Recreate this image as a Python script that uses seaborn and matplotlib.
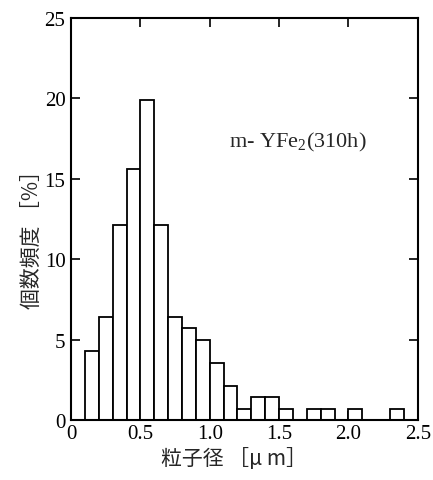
import matplotlib
matplotlib.use("Agg")
import matplotlib.pyplot as plt
import seaborn as sns
import numpy as np

# Data: particle diameter bins (um) and number frequency (%)
bin_edges = [0.1, 0.2, 0.3, 0.4, 0.5, 0.6, 0.7, 0.8, 0.9, 1.0, 1.1, 1.2,
             1.3, 1.4, 1.5, 1.6, 1.7, 1.8, 1.9, 2.0, 2.1, 2.2, 2.3, 2.4]
bin_centers = [0.15, 0.25, 0.35, 0.45, 0.55, 0.65, 0.75, 0.85, 0.95, 1.05, 1.15,
               1.25, 1.35, 1.45, 1.55, 1.65, 1.75, 1.85, 1.95, 2.05, 2.15, 2.25, 2.35]
freq_pct = [4.3, 6.4, 12.1, 15.6, 19.9, 12.1, 6.4, 5.7, 5.0, 3.55, 2.13,
            0.71, 1.42, 1.42, 0.71, 0.0, 0.71, 0.71, 0.0, 0.71, 0.0, 0.0, 0.71]
x_ticks = [0, 0.5, 1.0, 1.5, 2.0, 2.5]
x_tick_labels = ["0", "0.5", "1.0", "1.5", "2.0", "2.5"]
y_ticks = [0, 5, 10, 15, 20, 25]
y_tick_labels = ["0", "5", "10", "15", "20", "25"]
annotation = "m- YFe$_2$(310h)"
xlabel = "粒子径 ［μ m］"
ylabel = "個数頻度 ［%］"

sns.set_style("ticks")
plt.rcParams['font.family'] = ['Liberation Serif', 'Noto Sans CJK JP', 'DejaVu Sans']
plt.rcParams['mathtext.fontset'] = 'custom'
plt.rcParams['mathtext.rm'] = 'Liberation Serif'

fig = plt.figure(figsize=(4.33, 4.81), dpi=100)
ax = fig.add_axes([0.164, 0.1247, 0.801, 0.8358])

sns.histplot(x=bin_centers, weights=freq_pct, bins=bin_edges, ax=ax,
             color="white", edgecolor="black", linewidth=1.3, alpha=1.0)

ax.set_xlim(0, 2.5)
ax.set_ylim(0, 25)
ax.set_xticks(x_ticks)
ax.set_xticklabels(x_tick_labels, fontsize=15)
ax.set_yticks(y_ticks)
ax.set_yticklabels(y_tick_labels, fontsize=15)
ax.tick_params(axis='both', direction='in', length=6.5, width=1.2,
               top=True, right=True, colors='black')
ax.tick_params(axis='x', pad=3)
ax.tick_params(axis='y', pad=4)
for s in ax.spines.values():
    s.set_visible(True)
    s.set_linewidth(1.5)
    s.set_color('black')

ax.set_xlabel(xlabel, fontsize=15, family=['Noto Sans CJK JP', 'Liberation Serif'])
ax.set_ylabel(ylabel, fontsize=15, family=['Noto Sans CJK JP', 'Liberation Serif'])
ax.yaxis.set_label_coords(-0.08, 0.465)
ax.xaxis.set_label_coords(0.47, -0.068)
ax.text(1.14, 17.3, annotation, fontsize=16, va='center', ha='left')

fig.savefig("out.png", dpi=100, facecolor="white")
